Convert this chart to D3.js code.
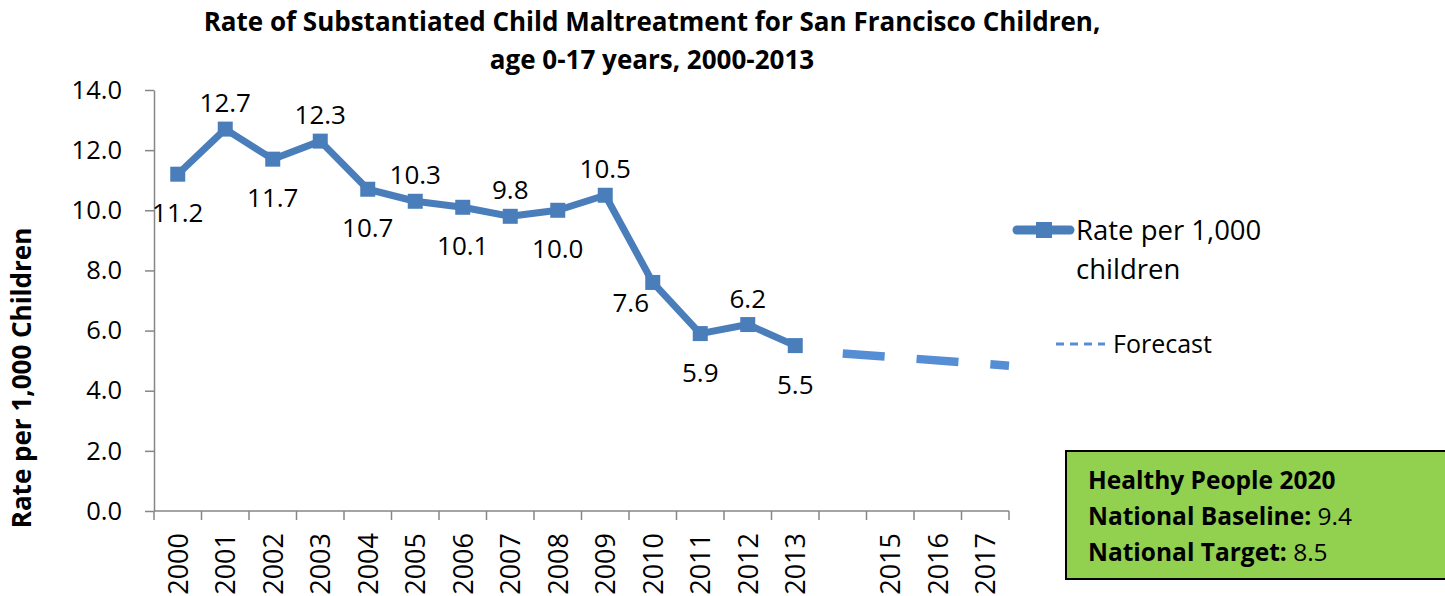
<!DOCTYPE html>
<html>
<head>
<meta charset="utf-8">
<script src="https://cdn.jsdelivr.net/npm/d3@7"></script>
<style>
  body { margin: 0; background: #fff; }
  text { font-family: "Open Sans", sans-serif; }
</style>
</head>
<body>
<div id="chart"></div>
<script>
// categories on the x axis ("" is the empty 2014 slot)
const years = ["2000","2001","2002","2003","2004","2005","2006","2007","2008","2009","2010","2011","2012","2013","","2015","2016","2017"];
const rateYears = ["2000","2001","2002","2003","2004","2005","2006","2007","2008","2009","2010","2011","2012","2013"];
const rates = [11.2, 12.7, 11.7, 12.3, 10.7, 10.3, 10.1, 9.8, 10.0, 10.5, 7.6, 5.9, 6.2, 5.5];
// where each data label sits: above / below / left
const labelPos = ["below","above","below","above","below","above","below","above","below","above","left","below","above","below"];
// forecast trend, start (2014 slot) and 2017
const forecastYears = ["", "2017"];
const forecastValues = [5.24, 4.89];
const yTicks = [0, 2, 4, 6, 8, 10, 12, 14];
const infoLines = [["Healthy People 2020", ""], ["National Baseline:", " 9.4"], ["National Target:", " 8.5"]];

const W = 1445, H = 596;
const margin = {top: 90, right: 436, bottom: 85, left: 154};
const width = W - margin.left - margin.right,
      height = H - margin.top - margin.bottom;

const svg = d3.select("#chart").append("svg")
    .attr("width", W)
    .attr("height", H);

const g = svg.append("g")
    .attr("transform", `translate(${margin.left},${margin.top})`);

const x = d3.scaleBand().domain(years).range([0, width]);
const y = d3.scaleLinear().domain([0, 14]).range([height, 0]);
const cx = d => x(d) + x.bandwidth() / 2;

// title
svg.append("text")
    .attr("x", 652).attr("y", 31)
    .attr("text-anchor", "middle")
    .style("font-weight", "bold").style("font-size", "26px")
    .text("Rate of Substantiated Child Maltreatment for San Francisco Children,");
svg.append("text")
    .attr("x", 652).attr("y", 69)
    .attr("text-anchor", "middle")
    .style("font-weight", "bold").style("font-size", "26px")
    .text("age 0-17 years, 2000-2013");

// y axis
const yAxis = g.append("g")
    .call(d3.axisLeft(y).tickValues(yTicks).tickFormat(d3.format(".1f")).tickSize(9).tickSizeOuter(0));
yAxis.select(".domain").attr("stroke", "#868686").attr("stroke-width", 1.5);
yAxis.selectAll(".tick line").attr("stroke", "#868686").attr("stroke-width", 1.5);
yAxis.selectAll(".tick text")
    .attr("x", -32)
    .style("font-family", "'Open Sans', sans-serif").style("font-size", "25.5px").attr("fill", "#000");

// x axis, ticks on band edges
const xAxisG = g.append("g").attr("transform", `translate(0,${height})`);
xAxisG.append("line")
    .attr("x1", 0).attr("x2", width)
    .attr("stroke", "#868686").attr("stroke-width", 1.5);
xAxisG.selectAll(".edge")
    .data(years.map((d, i) => i).concat([years.length]))
    .join("line")
    .attr("x1", i => i * x.step()).attr("x2", i => i * x.step())
    .attr("y1", 0).attr("y2", 9)
    .attr("stroke", "#868686").attr("stroke-width", 1.5);
xAxisG.selectAll(".lbl")
    .data(years.filter(d => d !== ""))
    .join("text")
    .attr("transform", d => `translate(${cx(d) + 10},22) rotate(-90)`)
    .attr("text-anchor", "end")
    .style("font-size", "27px")
    .text(d => d);

// y axis title
svg.append("text")
    .attr("transform", "translate(31,378) rotate(-90)")
    .attr("text-anchor", "middle")
    .style("font-weight", "bold").style("font-size", "26px")
    .text("Rate per 1,000 Children");

// forecast dashed trend, carried to the end of the axis
const fx0 = cx(forecastYears[0]), fx1 = cx(forecastYears[1]);
const slope = (forecastValues[1] - forecastValues[0]) / (fx1 - fx0);
const fEnd = forecastValues[0] + slope * (width - fx0);
g.append("path")
    .attr("d", d3.line()([[fx0, y(forecastValues[0])], [width, y(fEnd)]]))
    .attr("fill", "none")
    .attr("stroke", "#558ed5")
    .attr("stroke-width", 8.5)
    .attr("stroke-dasharray", "42,32");

// main line
const line = d3.line().x((d, i) => cx(rateYears[i])).y(d => y(d));
g.append("path")
    .datum(rates)
    .attr("d", line)
    .attr("fill", "none")
    .attr("stroke", "#4a7ebb")
    .attr("stroke-width", 7)
    .attr("stroke-linejoin", "round");

g.selectAll(".marker")
    .data(rates)
    .join("rect")
    .attr("x", (d, i) => cx(rateYears[i]) - 7.5)
    .attr("y", d => y(d) - 7.5)
    .attr("width", 15).attr("height", 15)
    .attr("fill", "#4a7ebb");

// data labels
g.selectAll(".dlabel")
    .data(rates)
    .join("text")
    .attr("x", (d, i) => labelPos[i] === "left" ? cx(rateYears[i]) - 22 : cx(rateYears[i]))
    .attr("y", (d, i) => {
      const p = labelPos[i];
      if (p === "above") return y(d) - 17;
      if (p === "left") return y(d) + 30;
      return y(d) + 48;
    })
    .attr("text-anchor", "middle")
    .style("font-size", "26px")
    .text(d => d3.format(".1f")(d));

// legend
const lg = svg.append("g");
lg.append("line")
    .attr("x1", 1017).attr("x2", 1070).attr("y1", 230).attr("y2", 230)
    .attr("stroke", "#4a7ebb").attr("stroke-width", 9).attr("stroke-linecap", "round");
lg.append("rect")
    .attr("x", 1036).attr("y", 222).attr("width", 16).attr("height", 16)
    .attr("fill", "#4a7ebb");
lg.append("text").attr("x", 1076).attr("y", 240).style("font-size", "27.5px").text("Rate per 1,000");
lg.append("text").attr("x", 1076).attr("y", 279).style("font-size", "27.5px").text("children");
lg.append("line")
    .attr("x1", 1056).attr("x2", 1105).attr("y1", 344).attr("y2", 344)
    .attr("stroke", "#558ed5").attr("stroke-width", 3).attr("stroke-dasharray", "8,6");
lg.append("text").attr("x", 1113).attr("y", 353).style("font-size", "25px").text("Forecast");

// Healthy People box
const box = svg.append("g");
box.append("rect")
    .attr("x", 1066).attr("y", 451).attr("width", 380).attr("height", 128)
    .attr("fill", "#92d050").attr("stroke", "#000").attr("stroke-width", 2);
box.selectAll(".info")
    .data(infoLines)
    .join("text")
    .attr("x", 1088)
    .attr("y", (d, i) => 489 + i * 36)
    .style("font-size", "24.5px")
    .each(function(d) {
      d3.select(this).append("tspan").style("font-weight", "bold").text(d[0]);
      d3.select(this).append("tspan").text(d[1]);
    });
</script>
</body>
</html>
